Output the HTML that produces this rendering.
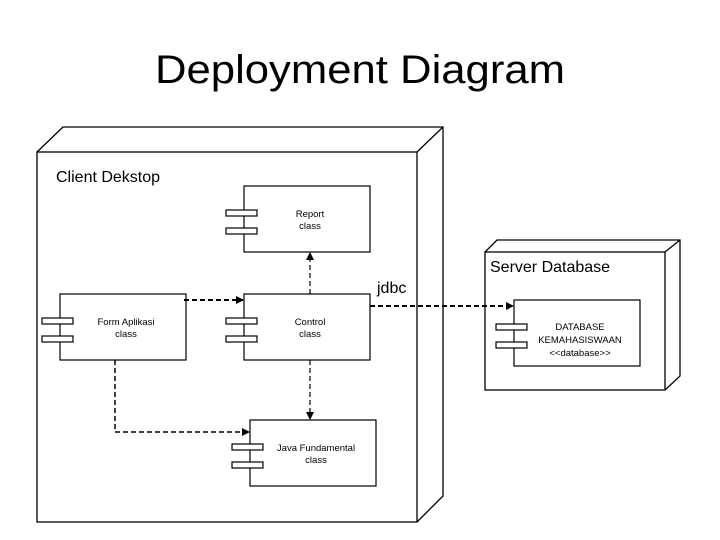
<!DOCTYPE html>
<html><head><meta charset="utf-8"><style>html,body{margin:0;padding:0;background:#fff}svg{display:block}</style></head>
<body>
<svg width="720" height="540" viewBox="0 0 720 540" xmlns="http://www.w3.org/2000/svg" font-family="Liberation Sans, Arial, sans-serif">
<defs>
<marker id="a" markerWidth="8" markerHeight="8" refX="7" refY="4" orient="auto" markerUnits="userSpaceOnUse">
<path d="M0,0 L8,4 L0,8 z" fill="#000"/></marker>
</defs>
<text x="360" y="83" font-size="40" text-anchor="middle" textLength="410" lengthAdjust="spacingAndGlyphs">Deployment Diagram</text>
<g fill="none" stroke="#000" stroke-width="1.3">
<!-- client node -->
<rect x="37" y="152" width="380" height="370" fill="#fff"/>
<path d="M37,152 L63,127 L443,127 L443,496 L417,522 M417,152 L443,127"/>
<!-- server node -->
<rect x="485" y="252" width="180" height="138" fill="#fff"/>
<path d="M485,252 L497,240 L680,240 L680,376 L665,390 M665,252 L680,240"/>
</g>
<text x="56" y="182" font-size="16">Client Dekstop</text>
<text x="490" y="272" font-size="16">Server Database</text>
<text x="377" y="293" font-size="16">jdbc</text>
<g stroke="#000" stroke-width="1.2" fill="#fff">
<rect x="244" y="186" width="126" height="66"/>
<rect x="226" y="210" width="31" height="6"/><rect x="226" y="228" width="31" height="6"/>
<rect x="60" y="294" width="126" height="66"/>
<rect x="42" y="318" width="31" height="6"/><rect x="42" y="336" width="31" height="6"/>
<rect x="244" y="294" width="126" height="66"/>
<rect x="226" y="318" width="31" height="6"/><rect x="226" y="336" width="31" height="6"/>
<rect x="250" y="420" width="126" height="66"/>
<rect x="232" y="444" width="31" height="6"/><rect x="232" y="462" width="31" height="6"/>
<rect x="514" y="300" width="126" height="66"/>
<rect x="496" y="324" width="31" height="6"/><rect x="496" y="342" width="31" height="6"/>
</g>
<g font-size="9.5" text-anchor="middle">
<text x="310" y="217">Report</text><text x="310" y="229">class</text>
<text x="126" y="325">Form Aplikasi</text><text x="126" y="337">class</text>
<text x="310" y="325">Control</text><text x="310" y="337">class</text>
<text x="316" y="451">Java Fundamental</text><text x="316" y="463">class</text>
<text x="580" y="330">DATABASE</text><text x="580" y="343">KEMAHASISWAAN</text><text x="580" y="356">&lt;&lt;database&gt;&gt;</text>
</g>
<g fill="none" stroke="#000" stroke-dasharray="5,3">
<path d="M184,300 L243,300" stroke-width="2" marker-end="url(#a)"/>
<path d="M370,306 L513,306" stroke-width="2" marker-end="url(#a)"/>
<path d="M310,294 L310,253" stroke-width="1.2" marker-end="url(#a)"/>
<path d="M310,360 L310,419" stroke-width="1.2" marker-end="url(#a)"/>
<path d="M115,360 L115,432 L249,432" stroke-width="1.5" marker-end="url(#a)"/>
</g>
</svg>
</body></html>
